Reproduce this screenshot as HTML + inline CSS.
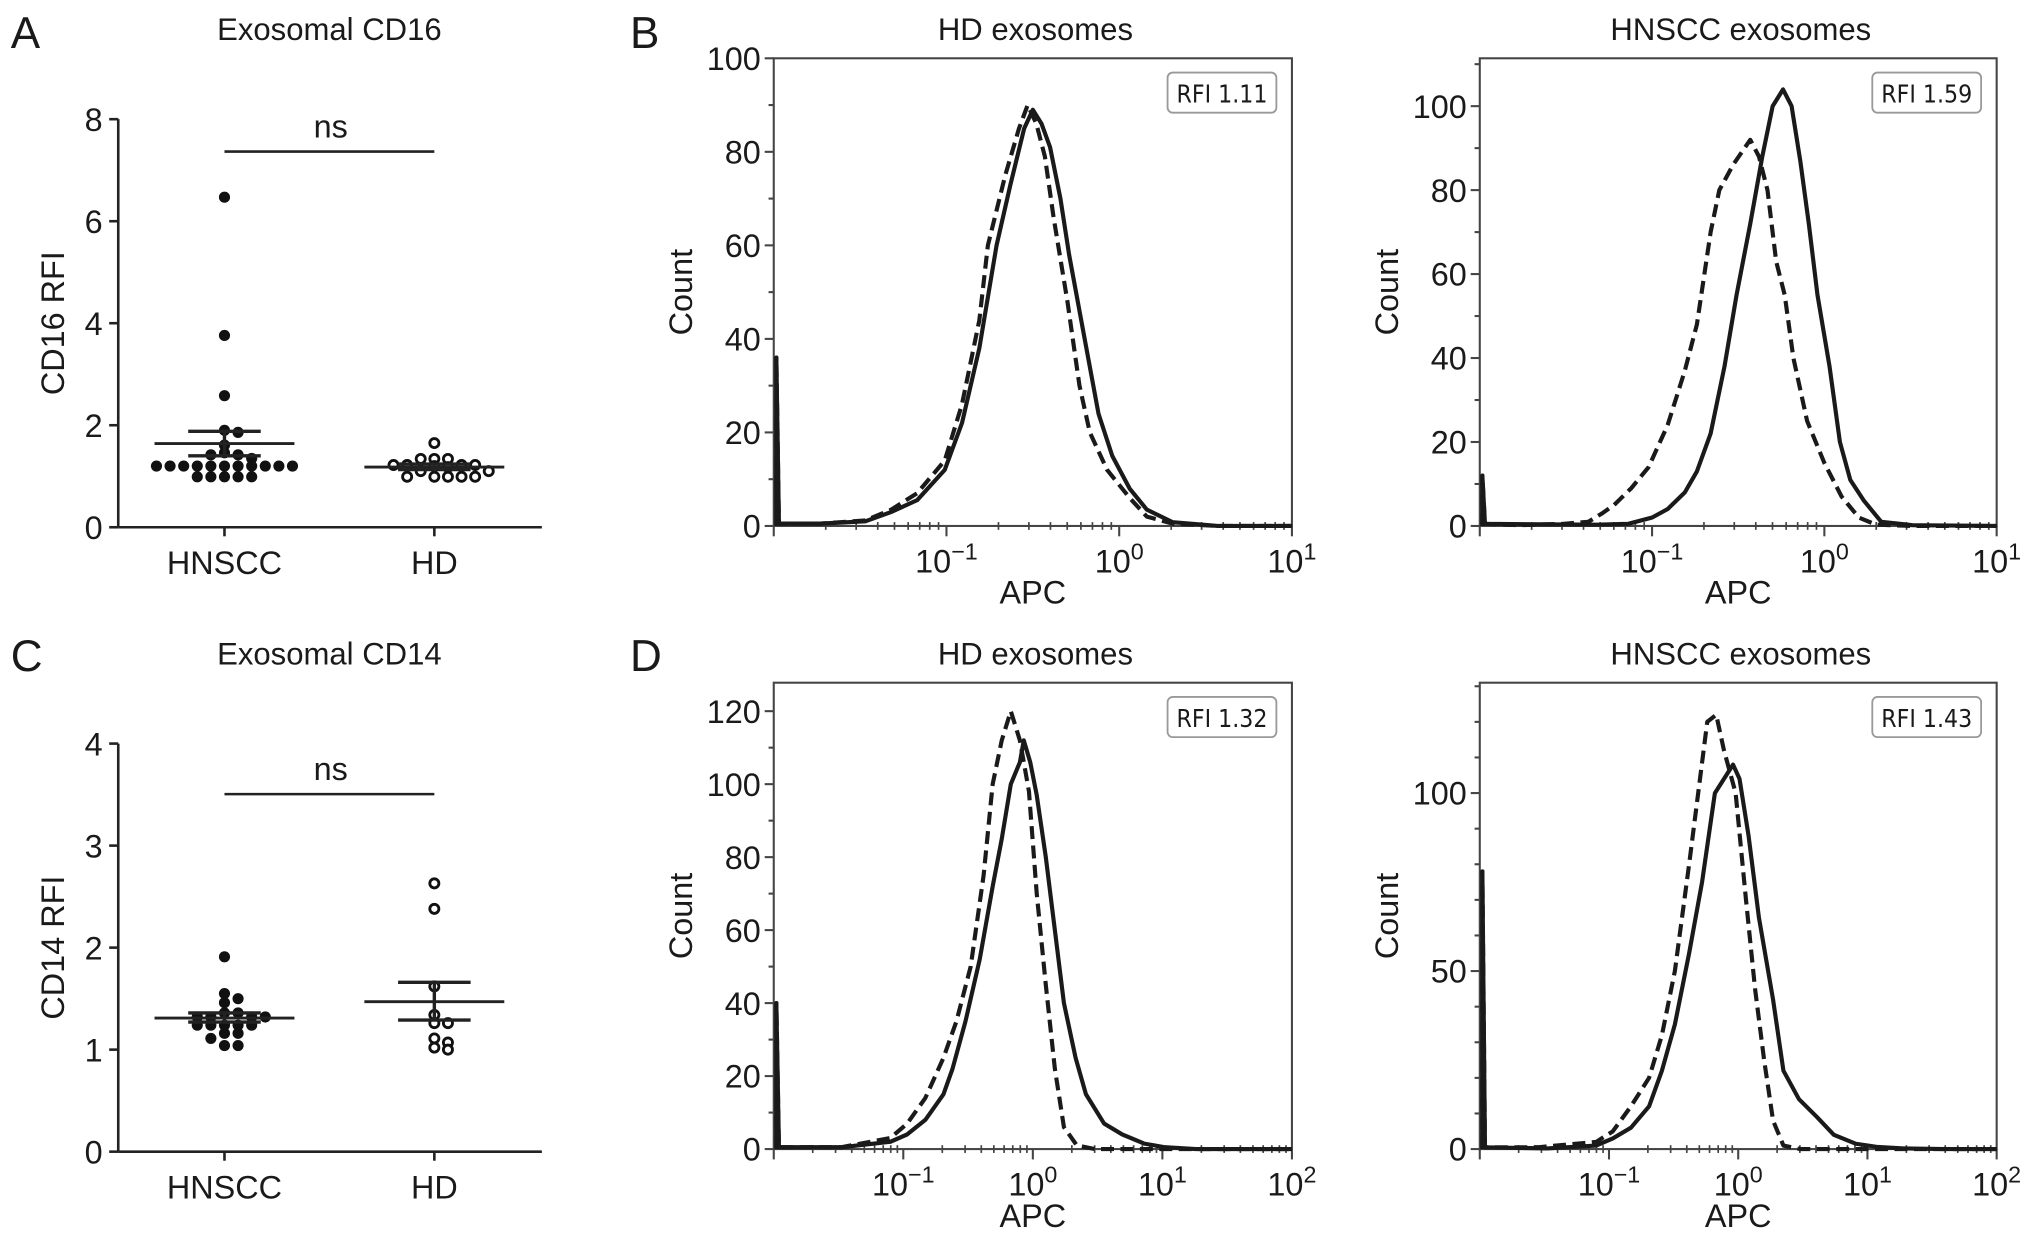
<!DOCTYPE html>
<html><head><meta charset="utf-8">
<style>
html,body{margin:0;padding:0;background:#fff;}
svg{display:block;}
text{font-family:"Liberation Sans",Arial,sans-serif;fill:#1a1a1a;}
.rfi{font-family:"DejaVu Sans Condensed","DejaVu Sans","Liberation Sans",sans-serif;font-size:19px;}
</style></head>
<body>
<svg id="fig" width="2032" height="1254" viewBox="0 0 1568 968" xmlns="http://www.w3.org/2000/svg">
</svg>
<script>
// ---------- Scatter data ----------
const catLabels = ["HNSCC","HD"];
const cd16Hnscc = [6.47,3.76,2.58,1.9,1.86,1.61,1.46,1.42,1.42,1.35,1.2,1.2,1.2,1.2,1.2,1.2,1.2,1.2,1.2,1.2,1.2,0.99,0.99,0.99,0.99,0.99];
const cd16Hd = [1.65,1.34,1.34,1.34,1.22,1.22,1.22,1.22,1.2,1.18,1.1,1.1,0.99,0.99,0.99,0.99,0.99];
const cd16Stats = [[1.64,1.40,1.88],[1.18,1.13,1.24]]; // mean, sem low, sem high
const cd16Ticks = [0,2,4,6,8];
const cd14Hnscc = [1.91,1.55,1.50,1.46,1.36,1.36,1.32,1.32,1.32,1.32,1.24,1.24,1.24,1.24,1.24,1.16,1.16,1.11,1.04,1.04];
const cd14Hd = [2.63,2.38,1.62,1.34,1.26,1.26,1.11,1.07,1.02,1.0];
const cd14Stats = [[1.31,1.27,1.36],[1.47,1.29,1.66]];
const cd14Ticks = [0,1,2,3,4];

// ---------- Histogram data (x = log10 APC, y = count) ----------
const b1X = [-1.73,-1.47,-1.32,-1.17,-1.01,-0.91,-0.81,-0.71,-0.63,-0.55,-0.50,-0.45,-0.40,-0.34,-0.29,-0.20,-0.12,-0.04,0.06,0.16,0.31,0.57,0.98];
const b1Solid = [0.5,1,3,5.5,12,22,38,60,73,85,89,86,81,70,58,40,24,15,8,3.5,0.8,0,0];
const b1DashX = [-1.73,-1.47,-1.32,-1.17,-1.01,-0.91,-0.81,-0.76,-0.66,-0.58,-0.53,-0.48,-0.43,-0.38,-0.30,-0.23,-0.17,-0.07,0.06,0.16,0.31,0.57,0.98];
const b1Dash = [0.5,1.2,3.5,7,14,26,44,60,75,85,90,86,79,66,48,30,20,12,6,2,0.5,0,0];
const b1Spike = 36;

const b2X = [-1.32,-1.14,-1.0,-0.91,-0.81,-0.74,-0.66,-0.58,-0.51,-0.43,-0.36,-0.30,-0.24,-0.19,-0.14,-0.09,-0.04,0.03,0.09,0.15,0.23,0.33,0.51,1.0];
const b2Solid = [0.3,0.5,2,4,8,13,22,38,55,72,88,100,104,100,87,72,55,38,20,11,6,1,0.2,0];
const b2DashX = [-1.78,-1.52,-1.37,-1.29,-1.22,-1.12,-1.02,-0.91,-0.81,-0.74,-0.66,-0.61,-0.53,-0.43,-0.38,-0.33,-0.28,-0.23,-0.18,-0.10,0.0,0.10,0.20,0.30,0.51];
const b2Dash = [0.2,0.5,1,3,5,9,14,24,37,48,70,80,86,92,88,80,63,55,40,25,15,7,2,0.3,0];
const b2Spike = 12;

const d1X = [-1.48,-1.10,-0.97,-0.83,-0.69,-0.62,-0.52,-0.41,-0.31,-0.24,-0.17,-0.10,-0.07,-0.02,0.03,0.10,0.17,0.24,0.33,0.41,0.55,0.69,0.86,1.02,1.26,2.0];
const d1Solid = [0.5,2,4,8,15,22,35,52,72,85,100,106,112,106,97,80,60,40,25,15,7,4,1.5,0.5,0,0];
const d1DashX = [-1.48,-1.10,-0.97,-0.83,-0.69,-0.59,-0.48,-0.38,-0.31,-0.24,-0.17,-0.10,-0.03,0.03,0.10,0.17,0.24,0.34,0.48,2.0];
const d1Dash = [0.5,3,7,14,25,35,50,75,100,112,120,112,98,70,45,22,6,1,0,0];
const d1Spike = 40;

const d2X = [-1.48,-1.10,-0.97,-0.83,-0.69,-0.59,-0.49,-0.38,-0.28,-0.18,-0.11,-0.04,0.01,0.08,0.16,0.27,0.35,0.47,0.61,0.74,0.91,1.08,1.28,1.6,2.0];
const d2Solid = [0.2,1,3,6,12,22,35,55,75,100,104,108,104,88,65,42,22,14,9,4,1.5,0.6,0.2,0,0];
const d2DashX = [-1.55,-1.10,-0.97,-0.83,-0.69,-0.59,-0.49,-0.38,-0.31,-0.24,-0.17,-0.11,-0.02,0.06,0.13,0.20,0.27,0.35,0.48,2.0];
const d2Dash = [0.5,2,5,12,20,32,50,80,100,120,122,112,100,70,45,25,8,1,0,0];
const d2Spike = 78;

const NS = "http://www.w3.org/2000/svg";
const svg = document.getElementById("fig");
function mk(tag, attrs, parent){
  const e = document.createElementNS(NS, tag);
  for (const k in attrs) e.setAttribute(k, attrs[k]);
  (parent||svg).appendChild(e);
  return e;
}
function txt(str, x, y, size, anchor, parent, extra){
  const t = mk("text", Object.assign({x:x, y:y, "font-size":size, "text-anchor":anchor||"middle"}, extra||{}), parent);
  t.textContent = str;
  return t;
}

// ---------- Panel labels ----------
[["A",8,37],["B",486,37],["C",8,518],["D",486,518]].forEach(p=>{
  const t = txt(p[0], p[1], p[2], 34, "start");
  
  
});

// ---------- Scatter panel ----------
function scatter(name, top, yTicks, groups, stats, title, ylab){
  const g = mk("g", {});
  
  
  const ax0 = 91, ax1 = 418, yTop = top, yBot = top + 315;
  const ymax = yTicks[yTicks.length-1];
  const ys = v => yBot - v/ymax*(yBot-yTop);
  const catX = [173, 335];
  const tt = txt(title, 254, top - 61, 24, "middle", g);
  
  
  mk("line",{x1:ax0,y1:yTop,x2:ax0,y2:yBot,stroke:"#222","stroke-width":2},g);
  mk("line",{x1:ax0,y1:yBot,x2:ax1,y2:yBot,stroke:"#222","stroke-width":2},g);
  yTicks.forEach(v=>{
    mk("line",{x1:ax0-7,y1:ys(v),x2:ax0,y2:ys(v),stroke:"#222","stroke-width":2},g);
    const l = txt(String(v), ax0-12, ys(v)+9, 25, "end", g);
    
    
  });
  const yl = txt(ylab, 0, 0, 25, "middle", g, {transform:`translate(49,${(yTop+yBot)/2}) rotate(-90)`});
  
  
  catLabels.forEach((c,i)=>{
    mk("line",{x1:catX[i],y1:yBot,x2:catX[i],y2:yBot+7,stroke:"#222","stroke-width":2},g);
    const l = txt(c, catX[i], yBot+36, 25, "middle", g);
    
    
  });
  const sy = top + 25 + (name==="cd14-scatter"?14:0);
  mk("line",{x1:catX[0],y1:sy,x2:catX[1],y2:sy,stroke:"#222","stroke-width":2},g);
  const ns = txt("ns", 255, sy-11, 25, "middle", g);
  
  
  const r = 4.3, d = 10.5;
  groups.forEach((vals,gi)=>{
    const placed = [];
    vals.forEach(v=>{
      const y = ys(v);
      let off = 0;
      for (let k=0;k<40;k++){
        const cand = k===0?0:(k%2? Math.ceil(k/2)*d : -Math.ceil(k/2)*d);
        const hit = placed.some(p=> Math.abs(p[0]-cand) < d-0.5 && Math.abs(p[1]-y) < 5);
        if(!hit){off=cand;break;}
      }
      placed.push([off,y]);
      const c = mk("circle", {cx:catX[gi]+off, cy:y, r: gi===0?r:r-0.8,
        fill: gi===0?"#111":"#fff", stroke:"#111", "stroke-width": gi===0?0:2.2}, g);
      
      
    });
    const s = stats[gi];
    const m = mk("line",{x1:catX[gi]-54,y1:ys(s[0]),x2:catX[gi]+54,y2:ys(s[0]),stroke:"#222","stroke-width":2.2},g);
    
    
    [s[1],s[2]].forEach(v=>{
      const e = mk("line",{x1:catX[gi]-28,y1:ys(v),x2:catX[gi]+28,y2:ys(v),stroke:"#222","stroke-width":2.6},g);
      
      
    });
    mk("line",{x1:catX[gi],y1:ys(s[1]),x2:catX[gi],y2:ys(s[2]),stroke:"#222","stroke-width":2.6},g);
  });
}
scatter("cd16-scatter", 92, cd16Ticks, [cd16Hnscc, cd16Hd], cd16Stats, "Exosomal CD16", "CD16 RFI");
scatter("cd14-scatter", 574, cd14Ticks, [cd14Hnscc, cd14Hd], cd14Stats, "Exosomal CD14", "CD14 RFI");

// ---------- Histogram panel ----------
function hist(cfg){
  const g = mk("g",{});
  
  
  const {x0,x1,y0,y1,lmin,lmax,ymax} = cfg;
  const xs = l => x0 + (l-lmin)/(lmax-lmin)*(x1-x0);
  const ys = v => y1 - v/ymax*(y1-y0);
  const t = txt(cfg.title, (x0+x1)/2+2, y0-14, 24, "middle", g);
  
  
  mk("rect",{x:x0,y:y0,width:x1-x0,height:y1-y0,fill:"none",stroke:"#444","stroke-width":1.6},g);
  for(let v=0; v<=ymax+0.01; v+=cfg.minor){
    const major = Math.abs(v/cfg.major - Math.round(v/cfg.major))<1e-6;
    mk("line",{x1:x0-(major?7:4),y1:ys(v),x2:x0,y2:ys(v),stroke:"#444","stroke-width":1.6},g);
    if(major){
      const l = txt(String(Math.round(v)), x0-10, ys(v)+9, 25, "end", g);
      
      
    }
  }
  for(let dec=lmin; dec<=lmax; dec++){
    mk("line",{x1:xs(dec),y1:y1,x2:xs(dec),y2:y1+8,stroke:"#444","stroke-width":1.6},g);
    if(dec>lmin){
      const l = mk("text",{x:xs(dec),y:y1+36,"font-size":25,"text-anchor":"middle"},g);
      
      
      const a = document.createElementNS(NS,"tspan"); a.textContent="10"; l.appendChild(a);
      const b = document.createElementNS(NS,"tspan"); b.setAttribute("dy","-10"); b.setAttribute("font-size","18");
      b.textContent = dec<0 ? "\u2212"+(-dec) : String(dec); l.appendChild(b);
    }
    if(dec<lmax){
      for(let k=2;k<=9;k++){
        const xx = xs(dec+Math.log10(k));
        mk("line",{x1:xx,y1:y1-3,x2:xx,y2:y1+3,stroke:"#444","stroke-width":1.3},g);
      }
    }
  }
  const xl = txt("APC", (x0+x1)/2, y1+60, 25, "middle", g);
  
  
  const yl = txt("Count", 0, 0, 25, "middle", g, {transform:`translate(${x0-63},${(y0+y1)/2}) rotate(-90)`});
  
  
  function series(X, Y, dashed, nm){
    let dstr = `M${xs(lmin)+2},${ys(0)} L${xs(lmin)+2},${ys(cfg.spike)} L${xs(lmin)+4},${ys(0.5)}`;
    X.forEach((l,i)=>{ dstr += ` L${xs(l).toFixed(1)},${ys(Y[i]).toFixed(1)}`; });
    dstr += ` L${xs(lmax)},${ys(0)}`;
    const p = mk("path",{d:dstr,fill:"none",stroke:"#1a1a1a","stroke-width":3.2,"stroke-linejoin":"round","stroke-dasharray":dashed?"10 5":"none"},g);
    
    
  }
  series(cfg.dX, cfg.dY, true, 'isotype-histogram');
  series(cfg.sX, cfg.sY, false, 'stained-histogram');
  const bx = x1-12-84;
  const r = mk("rect",{x:bx,y:y0+11,width:84,height:31,rx:4,fill:"#fff",stroke:"#999","stroke-width":1.4},g);
  
  
  const rt = txt(cfg.rfi, bx+42, y0+34, 19, "middle", g, {"class":"rfi"});
  
  
}
hist({name:"hd-cd16-histogram",title:"HD exosomes",rfi:"RFI 1.11",x0:597,x1:997,y0:45,y1:406,lmin:-2,lmax:1,ymax:100,major:20,minor:10,
  sX:b1X,sY:b1Solid,dX:b1DashX,dY:b1Dash,spike:b1Spike});
hist({name:"hnscc-cd16-histogram",title:"HNSCC exosomes",rfi:"RFI 1.59",x0:1142,x1:1541,y0:45,y1:406,lmin:-2,lmax:1,ymax:111.4,major:20,minor:10,
  sX:b2X,sY:b2Solid,dX:b2DashX,dY:b2Dash,spike:b2Spike});
hist({name:"hd-cd14-histogram",title:"HD exosomes",rfi:"RFI 1.32",x0:597,x1:997,y0:527,y1:887,lmin:-2,lmax:2,ymax:127.8,major:20,minor:10,
  sX:d1X,sY:d1Solid,dX:d1DashX,dY:d1Dash,spike:d1Spike});
hist({name:"hnscc-cd14-histogram",title:"HNSCC exosomes",rfi:"RFI 1.43",x0:1142,x1:1541,y0:527,y1:887,lmin:-2,lmax:2,ymax:131,major:50,minor:10,
  sX:d2X,sY:d2Solid,dX:d2DashX,dY:d2Dash,spike:d2Spike});
</script>
</body></html>
